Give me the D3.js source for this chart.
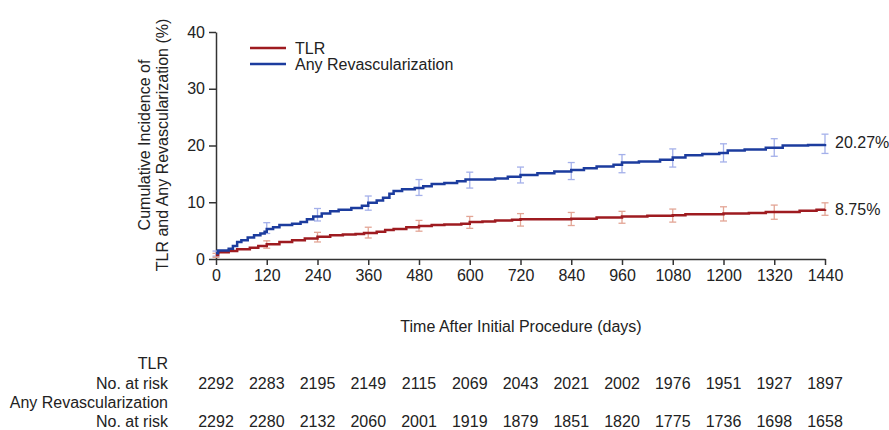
<!DOCTYPE html>
<html>
<head>
<meta charset="utf-8">
<script src="https://cdn.jsdelivr.net/npm/d3@7"></script>
<style>
  body { margin: 0; background: #fff; }
  svg text { font-family: "Liberation Sans", Arial, sans-serif; fill: #222; }
</style>
</head>
<body>
<svg id="chart" width="889" height="430"></svg>
<script>
// step curves (day, cumulative %)
var revDays = [0, 5, 30, 40, 50, 60, 75, 90, 105, 115, 120, 135, 150, 180, 200, 215, 230, 250, 270, 290, 320, 345, 360, 380, 395, 410, 420, 440, 470, 490, 510, 540, 570, 590, 660, 690, 720, 760, 800, 840, 870, 900, 940, 960, 1000, 1050, 1080, 1110, 1150, 1190, 1210, 1250, 1300, 1340, 1400, 1440];
var revVals = [1.0, 1.5, 1.8, 2.3, 3.0, 3.3, 3.8, 4.2, 4.5, 4.8, 5.3, 5.6, 6.0, 6.2, 6.5, 7.0, 7.5, 8.0, 8.4, 8.7, 9.0, 9.4, 9.9, 10.3, 10.8, 11.5, 12.0, 12.3, 12.5, 12.8, 13.2, 13.4, 13.7, 14.0, 14.2, 14.5, 14.8, 15.1, 15.4, 15.7, 16.0, 16.3, 16.6, 17.0, 17.2, 17.5, 17.9, 18.3, 18.5, 18.7, 19.1, 19.3, 19.6, 20.0, 20.1, 20.27];

var tlrDays = [0, 5, 30, 50, 80, 100, 120, 150, 180, 210, 240, 270, 300, 330, 350, 380, 400, 420, 450, 480, 510, 540, 580, 600, 630, 660, 700, 720, 840, 900, 960, 1020, 1080, 1110, 1200, 1260, 1300, 1380, 1420, 1440];
var tlrVals = [0.7, 1.2, 1.4, 1.7, 2.0, 2.3, 2.6, 3.0, 3.3, 3.6, 3.9, 4.2, 4.3, 4.4, 4.6, 4.8, 5.1, 5.3, 5.6, 5.8, 6.0, 6.1, 6.2, 6.5, 6.6, 6.8, 6.9, 7.0, 7.1, 7.3, 7.5, 7.6, 7.7, 7.9, 8.0, 8.1, 8.3, 8.5, 8.7, 8.75];

// confidence bars
var ciDays = [0, 120, 240, 360, 480, 600, 720, 840, 960, 1080, 1200, 1320, 1440];
var revLo = [0.5, 4.5, 6.7, 8.6, 11.2, 12.5, 13.4, 14.0, 15.2, 16.2, 17.1, 18.1, 18.6];
var revHi = [1.4, 6.4, 8.9, 11.1, 14.0, 15.3, 16.2, 17.0, 18.4, 19.4, 20.3, 21.2, 22.0];
var tlrLo = [0.3, 1.9, 3.0, 3.7, 4.9, 5.4, 5.8, 5.9, 6.3, 6.5, 6.7, 7.0, 7.7];
var tlrHi = [1.0, 3.2, 4.7, 5.6, 6.8, 7.5, 8.0, 8.2, 8.4, 8.8, 9.2, 9.5, 9.9];

var xTicks = [0, 120, 240, 360, 480, 600, 720, 840, 960, 1080, 1200, 1320, 1440];
var yTicks = [0, 10, 20, 30, 40];

var tlrRisk = [2292, 2283, 2195, 2149, 2115, 2069, 2043, 2021, 2002, 1976, 1951, 1927, 1897];
var revRisk = [2292, 2280, 2132, 2060, 2001, 1919, 1879, 1851, 1820, 1775, 1736, 1698, 1658];

var red = "#9e1b20", blue = "#1c3c9e";
var redLight = "#e3a595", blueLight = "#a4b0ea";

var svg = d3.select("#chart");
var x = d3.scaleLinear().domain([0, 1440]).range([216, 825]);
var y = d3.scaleLinear().domain([0, 40]).range([259, 32]);

// axes
var xAxis = svg.append("g")
    .attr("transform", "translate(0,259)")
    .call(d3.axisBottom(x).tickValues(xTicks).tickFormat(d3.format("d"))
        .tickSize(6).tickSizeOuter(0).tickPadding(5));
var yAxis = svg.append("g")
    .attr("transform", "translate(216,0)")
    .call(d3.axisLeft(y).tickValues(yTicks).tickFormat(d3.format("d"))
        .tickSize(7).tickSizeOuter(0).tickPadding(4));
[xAxis, yAxis].forEach(function (a) {
    a.selectAll("path, line").attr("stroke", "#333").attr("stroke-width", 1.5);
    a.selectAll("text").style("font-size", "16px").attr("fill", "#222");
});

// y title
var yt = svg.append("text")
    .attr("transform", "translate(150,145) rotate(-90)")
    .attr("text-anchor", "middle")
    .style("font-size", "16px");
yt.append("tspan").attr("x", 0).attr("dy", 0).text("Cumulative Incidence of");
yt.append("tspan").attr("x", 0).attr("dy", 18).text("TLR and Any Revascularization (%)");

// x title
svg.append("text")
    .attr("x", 521).attr("y", 332)
    .attr("text-anchor", "middle")
    .style("font-size", "16px")
    .text("Time After Initial Procedure (days)");

// error bars
function drawBars(lo, hi, color) {
    var g = svg.append("g").attr("stroke", color).attr("stroke-width", 1.3).attr("fill", "none");
    ciDays.forEach(function (d, i) {
        var cx = x(d);
        g.append("line").attr("x1", cx).attr("x2", cx).attr("y1", y(lo[i])).attr("y2", y(hi[i]));
        g.append("line").attr("x1", cx - 3.5).attr("x2", cx + 3.5).attr("y1", y(lo[i])).attr("y2", y(lo[i]));
        g.append("line").attr("x1", cx - 3.5).attr("x2", cx + 3.5).attr("y1", y(hi[i])).attr("y2", y(hi[i]));
    });
}
drawBars(revLo, revHi, blueLight);
drawBars(tlrLo, tlrHi, redLight);

// curves
var line = d3.line()
    .x(function (d) { return x(d[0]); })
    .y(function (d) { return y(d[1]); })
    .curve(d3.curveStepAfter);

svg.append("path")
    .datum(d3.zip(tlrDays, tlrVals))
    .attr("d", line).attr("fill", "none").attr("stroke", red).attr("stroke-width", 2.5);
svg.append("path")
    .datum(d3.zip(revDays, revVals))
    .attr("d", line).attr("fill", "none").attr("stroke", blue).attr("stroke-width", 2.5);

// end labels
svg.append("text").attr("x", 835).attr("y", 148).style("font-size", "16px")
    .text(revVals[revVals.length - 1].toFixed(2) + "%");
svg.append("text").attr("x", 835).attr("y", 215).style("font-size", "16px")
    .text(tlrVals[tlrVals.length - 1].toFixed(2) + "%");

// legend
var legend = [{ name: "TLR", color: red }, { name: "Any Revascularization", color: blue }];
legend.forEach(function (l, i) {
    var ly = 48 + i * 16;
    svg.append("line").attr("x1", 250).attr("x2", 286).attr("y1", ly).attr("y2", ly)
        .attr("stroke", l.color).attr("stroke-width", 2.5);
    svg.append("text").attr("x", 295).attr("y", ly + 6).style("font-size", "16px").text(l.name);
});

// risk table
var rows = [
    { label: "TLR", y: 369 },
    { label: "No. at risk", y: 389, values: tlrRisk },
    { label: "Any Revascularization", y: 408 },
    { label: "No. at risk", y: 427, values: revRisk }
];
rows.forEach(function (r) {
    svg.append("text").attr("x", 168).attr("y", r.y).attr("text-anchor", "end")
        .style("font-size", "16px").text(r.label);
    if (r.values) {
        svg.selectAll(null).data(r.values).enter().append("text")
            .attr("x", function (d, i) { return x(xTicks[i]); })
            .attr("y", r.y)
            .attr("text-anchor", "middle")
            .style("font-size", "16px")
            .text(function (d) { return d; });
    }
});
</script>
</body>
</html>
